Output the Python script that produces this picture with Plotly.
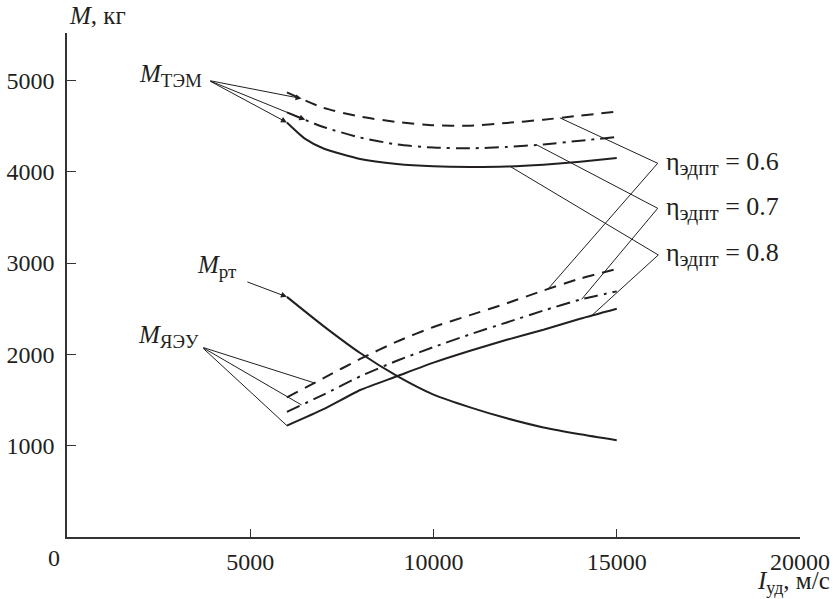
import numpy as np
import plotly.graph_objects as go

# ---- data ----
x_tem = [6000, 7000, 8000, 9000, 10000, 11000, 12000, 13000, 14000, 15000]
tem_06 = [4870, 4700, 4604, 4545, 4510, 4505, 4535, 4570, 4615, 4658]
tem_07 = [4650, 4490, 4375, 4300, 4265, 4257, 4272, 4300, 4340, 4380]
x_tem08 = [6000, 6500, 7000, 8000, 9000, 10000, 11000, 12000, 13000, 14000, 15000]
tem_08 = [4540, 4360, 4255, 4140, 4085, 4060, 4053, 4058, 4078, 4110, 4150]

x_yaeu = [6000, 7000, 8000, 9000, 10000, 11000, 12000, 13000, 14000, 15000]
yaeu_06 = [1530, 1740, 1950, 2140, 2300, 2430, 2560, 2700, 2830, 2935]
yaeu_07 = [1370, 1560, 1760, 1930, 2080, 2220, 2350, 2480, 2600, 2690]
yaeu_08 = [1220, 1400, 1610, 1760, 1910, 2040, 2160, 2270, 2390, 2500]

x_rt = [6000, 7000, 8000, 9000, 10000, 11000, 12000, 13000, 14000, 15000]
m_rt = [2630, 2310, 2015, 1765, 1560, 1420, 1300, 1200, 1125, 1060]

x_ticks = [5000, 10000, 15000, 20000]
y_ticks = [1000, 2000, 3000, 4000, 5000]
eta_labels = ["0.6", "0.7", "0.8"]

FONT = '"Liberation Serif", "Times New Roman", "DejaVu Serif", serif'
INK = "#231f20"
FS = 24

DASH = "12px,8px"
DASHDOT = "14px,6px,3px,6px"

fig = go.Figure()

def add_line(x, y, dash):
    fig.add_trace(go.Scatter(x=x, y=y, mode="lines",
                             line=dict(color=INK, width=2, dash=dash, shape="spline", smoothing=0.6),
                             hoverinfo="skip", showlegend=False))

add_line(x_tem, tem_06, DASH)
add_line(x_tem, tem_07, DASHDOT)
add_line(x_tem08, tem_08, "solid")
add_line(x_yaeu, yaeu_06, DASH)
add_line(x_yaeu, yaeu_07, DASHDOT)
add_line(x_yaeu, yaeu_08, "solid")
add_line(x_rt, m_rt, "solid")

ann = []
shapes = []

def arrow(tx, ty, ax, ay):
    ann.append(dict(x=tx, y=ty, ax=ax, ay=ay, xref="x", yref="y", axref="x", ayref="y",
                    text="", showarrow=True, arrowhead=2, arrowsize=1.2, arrowwidth=1, arrowcolor=INK))

def seg(x0, y0, x1, y1):
    shapes.append(dict(type="line", xref="x", yref="y", x0=x0, y0=y0, x1=x1, y1=y1,
                       line=dict(color=INK, width=1)))

def sublabel(main, sub, size):
    return main + "<sub><span style='font-size:%dpx'>%s</span></sub>" % (size, sub)

# M_TEM label and leaders
ann.append(dict(x=3740, y=5060, xref="x", yref="y", xanchor="right", yanchor="middle",
                text=sublabel("<i>M</i>", "ТЭМ", 19), showarrow=False,
                font=dict(family=FONT, size=25, color=INK)))
src = (3870, 5000)
for xs, ys, xt in [(x_tem, tem_06, 6400), (x_tem, tem_07, 6500), (x_tem08, tem_08, 6000)]:
    arrow(xt, float(np.interp(xt, xs, ys)), *src)

# M_rt label
ann.append(dict(x=4690, y=2960, xref="x", yref="y", xanchor="right", yanchor="middle",
                text=sublabel("<i>M</i>", "рт", 19), showarrow=False,
                font=dict(family=FONT, size=25, color=INK)))
arrow(x_rt[0], m_rt[0], 4880, 2800)

# M_YaEU label and leaders
ann.append(dict(x=3650, y=2200, xref="x", yref="y", xanchor="right", yanchor="middle",
                text=sublabel("<i>M</i>", "ЯЭУ", 19), showarrow=False,
                font=dict(family=FONT, size=25, color=INK)))
src2 = (3680, 2080)
for xs, ys, xt in [(x_yaeu, yaeu_06, 6750), (x_yaeu, yaeu_07, 6400), (x_yaeu, yaeu_08, 6000)]:
    ann.append(dict(x=xt, y=float(np.interp(xt, xs, ys)), ax=src2[0], ay=src2[1], xref="x", yref="y",
                    axref="x", ayref="y", text="", showarrow=True, arrowhead=0, arrowwidth=1, arrowcolor=INK))

# eta labels with leader lines
vert = [(16117, 4093), (16117, 3600), (16134, 3089)]
upper = [(x_tem, tem_06, 13450), (x_tem, tem_07, 12816), (x_tem08, tem_08, 12087)]
lower = [(x_yaeu, yaeu_06, 13124), (x_yaeu, yaeu_07, 14043), (x_yaeu, yaeu_08, 14316)]
for (vx, vy), (ux, uy, uxt), (lx, ly, lxt), lab in zip(vert, upper, lower, eta_labels):
    seg(vx, vy, uxt, float(np.interp(uxt, ux, uy)))
    seg(vx, vy, lxt, float(np.interp(lxt, lx, ly)))
    ann.append(dict(x=vx, y=vy, xref="x", yref="y", xanchor="left", yanchor="middle", xshift=6,
                    text=sublabel("η", "эдпт", 21) + " = " + lab, showarrow=False,
                    font=dict(family=FONT, size=26, color=INK)))

# axis titles and origin label
ann.append(dict(x=0, y=1 + 17 / 504, xref="paper", yref="paper", xanchor="left", yanchor="middle",
                text="<i>M</i>, кг", showarrow=False, font=dict(family=FONT, size=25, color=INK)))
ann.append(dict(x=1.0436, y=-0.09, xref="paper", yref="paper", xanchor="right", yanchor="middle",
                text=sublabel("<i>I</i>", "уд", 18) + ", м/с", showarrow=False,
                font=dict(family=FONT, size=25, color=INK)))
ann.append(dict(x=0, y=0, xref="x", yref="y", xanchor="center", yanchor="top", xshift=-13, yshift=-6,
                text="0", showarrow=False, font=dict(family=FONT, size=FS, color=INK)))

fig.update_layout(
    width=833, height=599,
    margin=dict(l=67, r=33, t=33, b=62),
    paper_bgcolor="white", plot_bgcolor="white",
    font=dict(family=FONT, size=FS, color=INK),
    showlegend=False,
    annotations=ann, shapes=shapes,
    xaxis=dict(range=[0, 20000], tickvals=x_ticks, ticktext=[str(v) for v in x_ticks],
               ticks="inside", ticklen=8, tickwidth=1.3, tickcolor="#333", automargin=False,
               showline=True, linecolor="#333", linewidth=1.5, showgrid=False, zeroline=False,
               ticklabelstandoff=2),
    yaxis=dict(range=[0, 5520], tickvals=y_ticks, ticktext=[str(v) for v in y_ticks],
               ticks="inside", ticklen=9, tickwidth=1.3, tickcolor="#333", automargin=False,
               showline=True, linecolor="#333", linewidth=1.5, showgrid=False, zeroline=False,
               ticklabelstandoff=6),
)

fig.write_html("out.html", config={"displayModeBar": False},
               post_script="document.body.style.margin='0';document.body.style.overflow='hidden';")
